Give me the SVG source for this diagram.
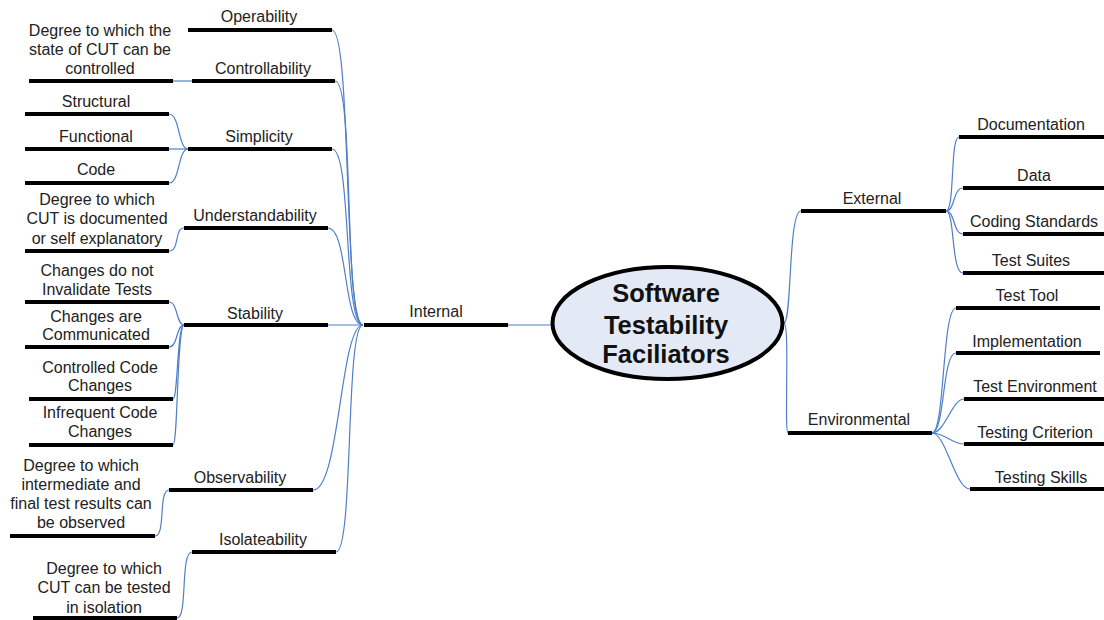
<svg xmlns="http://www.w3.org/2000/svg" width="1104" height="620" viewBox="0 0 1104 620">
  <style>
    .bar { stroke: #000; stroke-width: 4; fill: none; }
    .link { stroke: #4f7fc8; stroke-width: 1.2; fill: none; }
    .lbl { font-family: "Liberation Sans", Arial, sans-serif; font-size: 16px; fill: #222; text-anchor: middle; }
    .core { font-family: "Liberation Sans", Arial, sans-serif; font-size: 25.5px; font-weight: bold; fill: #111; text-anchor: middle; }
  </style>
  <rect width="1104" height="620" fill="#fff"/>

  <!-- connectors -->
  <g id="connectors">
    <!-- hub of Internal to the category branches -->
    <path class="link" d="M363,325 C343,325 352,30 332,30"/>
    <path class="link" d="M363,325 C343,325 355,81 335,81"/>
    <path class="link" d="M363,325 C343,325 352,149 332,149"/>
    <path class="link" d="M363,325 C343,325 348,228 328,228"/>
    <path class="link" d="M363,325 L328,325"/>
    <path class="link" d="M363,325 C340,325 340,490 313,490"/>
    <path class="link" d="M363,325 C345,325 354,552 336,552"/>
    <!-- Internal to the centre -->
    <path class="link" d="M508,325 L552,325"/>
    <!-- centre to right side branches -->
    <path class="link" d="M784,323 C792,323 788,211 801,211"/>
    <path class="link" d="M784,323 C790,323 784,433 788,433"/>
    <!-- Controllability detail -->
    <path class="link" d="M192,81 L173,81"/>
    <!-- Simplicity children -->
    <path class="link" d="M188,149 C178,149 180,114 169,114"/>
    <path class="link" d="M188,149 L169,149"/>
    <path class="link" d="M188,149 C178,149 180,183 169,183"/>
    <!-- Understandability detail -->
    <path class="link" d="M184,228 C174,228 180,251 169,251"/>
    <!-- Stability children -->
    <path class="link" d="M184,325 C176,325 178,302 169,302"/>
    <path class="link" d="M184,325 C176,325 178,347 169,347"/>
    <path class="link" d="M184,325 C177,325 178,399 173,399"/>
    <path class="link" d="M184,325 C177,325 178,445 173,445"/>
    <!-- Observability detail -->
    <path class="link" d="M169,490 C158,490 166,536 155,536"/>
    <!-- Isolateability detail -->
    <path class="link" d="M192,552 C180,552 188,618 177,618"/>
    <!-- External children -->
    <path class="link" d="M946,211 C955,211 950,137 959,137"/>
    <path class="link" d="M946,211 C955,211 953,188 963,188"/>
    <path class="link" d="M946,211 C955,211 953,234 963,234"/>
    <path class="link" d="M946,211 C955,211 951,273 963,273"/>
    <!-- Environmental children -->
    <path class="link" d="M932,433 C945,433 942,308 956,308"/>
    <path class="link" d="M932,433 C945,433 942,353 956,353"/>
    <path class="link" d="M932,433 C945,433 952,399 964,399"/>
    <path class="link" d="M932,433 C945,433 952,444 964,444"/>
    <path class="link" d="M932,433 C946,433 955,489 970,489"/>
  </g>

  <!-- centre -->
  <g id="center">
    <ellipse cx="667.5" cy="323" rx="115" ry="56" fill="#e3e9f5" stroke="#000" stroke-width="4"/>
    <text class="core" x="666" y="302">Software</text>
    <text class="core" x="666" y="334">Testability</text>
    <text class="core" x="666" y="363">Faciliators</text>
  </g>

  <!-- left side -->
  <g id="internal">
    <line class="bar" x1="364" y1="325" x2="508" y2="325"/>
    <text class="lbl" x="436" y="317">Internal</text>
  </g>

  <g id="operability">
    <line class="bar" x1="188" y1="30" x2="332" y2="30"/>
    <text class="lbl" x="259" y="22">Operability</text>
  </g>

  <g id="controllability">
    <line class="bar" x1="192" y1="81" x2="335" y2="81"/>
    <text class="lbl" x="263" y="74">Controllability</text>
  </g>
  <g id="controllability-detail">
    <line class="bar" x1="29" y1="81" x2="173" y2="81"/>
    <text class="lbl" x="100" y="36">Degree to which the</text>
    <text class="lbl" x="100" y="55">state of CUT can be</text>
    <text class="lbl" x="100" y="74">controlled</text>
  </g>

  <g id="simplicity">
    <line class="bar" x1="188" y1="149" x2="332" y2="149"/>
    <text class="lbl" x="259" y="142">Simplicity</text>
  </g>
  <g id="structural">
    <line class="bar" x1="25" y1="114" x2="169" y2="114"/>
    <text class="lbl" x="96" y="107">Structural</text>
  </g>
  <g id="functional">
    <line class="bar" x1="25" y1="149" x2="169" y2="149"/>
    <text class="lbl" x="96" y="142">Functional</text>
  </g>
  <g id="code">
    <line class="bar" x1="25" y1="183" x2="169" y2="183"/>
    <text class="lbl" x="96" y="175">Code</text>
  </g>

  <g id="understandability">
    <line class="bar" x1="184" y1="228" x2="328" y2="228"/>
    <text class="lbl" x="255" y="221">Understandability</text>
  </g>
  <g id="understandability-detail">
    <line class="bar" x1="25" y1="251" x2="169" y2="251"/>
    <text class="lbl" x="97" y="205">Degree to which</text>
    <text class="lbl" x="97" y="224">CUT is documented</text>
    <text class="lbl" x="97" y="244">or self explanatory</text>
  </g>

  <g id="stability">
    <line class="bar" x1="184" y1="325" x2="328" y2="325"/>
    <text class="lbl" x="255" y="319">Stability</text>
  </g>
  <g id="no-invalidate">
    <line class="bar" x1="25" y1="302" x2="169" y2="302"/>
    <text class="lbl" x="97" y="276">Changes do not</text>
    <text class="lbl" x="97" y="295">Invalidate Tests</text>
  </g>
  <g id="communicated">
    <line class="bar" x1="25" y1="347" x2="169" y2="347"/>
    <text class="lbl" x="96" y="322">Changes are</text>
    <text class="lbl" x="96" y="340">Communicated</text>
  </g>
  <g id="controlled-changes">
    <line class="bar" x1="29" y1="399" x2="173" y2="399"/>
    <text class="lbl" x="100" y="373">Controlled Code</text>
    <text class="lbl" x="100" y="391">Changes</text>
  </g>
  <g id="infrequent-changes">
    <line class="bar" x1="29" y1="445" x2="173" y2="445"/>
    <text class="lbl" x="100" y="418">Infrequent Code</text>
    <text class="lbl" x="100" y="437">Changes</text>
  </g>

  <g id="observability">
    <line class="bar" x1="169" y1="490" x2="313" y2="490"/>
    <text class="lbl" x="240" y="483">Observability</text>
  </g>
  <g id="observability-detail">
    <line class="bar" x1="10" y1="536" x2="155" y2="536"/>
    <text class="lbl" x="81" y="471">Degree to which</text>
    <text class="lbl" x="81" y="490">intermediate and</text>
    <text class="lbl" x="81" y="509">final test results can</text>
    <text class="lbl" x="81" y="528">be observed</text>
  </g>

  <g id="isolateability">
    <line class="bar" x1="192" y1="552" x2="336" y2="552"/>
    <text class="lbl" x="263" y="545">Isolateability</text>
  </g>
  <g id="isolateability-detail">
    <line class="bar" x1="33" y1="618" x2="177" y2="618"/>
    <text class="lbl" x="104" y="574">Degree to which</text>
    <text class="lbl" x="104" y="593">CUT can be tested</text>
    <text class="lbl" x="104" y="613">in isolation</text>
  </g>

  <!-- right side -->
  <g id="external">
    <line class="bar" x1="801" y1="211" x2="946" y2="211"/>
    <text class="lbl" x="872" y="204">External</text>
  </g>
  <g id="documentation">
    <line class="bar" x1="959" y1="137" x2="1104" y2="137"/>
    <text class="lbl" x="1031" y="130">Documentation</text>
  </g>
  <g id="data">
    <line class="bar" x1="963" y1="188" x2="1104" y2="188"/>
    <text class="lbl" x="1034" y="181">Data</text>
  </g>
  <g id="coding-standards">
    <line class="bar" x1="963" y1="234" x2="1104" y2="234"/>
    <text class="lbl" x="1034" y="227">Coding Standards</text>
  </g>
  <g id="test-suites">
    <line class="bar" x1="963" y1="273" x2="1104" y2="273"/>
    <text class="lbl" x="1031" y="266">Test Suites</text>
  </g>

  <g id="environmental">
    <line class="bar" x1="788" y1="433" x2="932" y2="433"/>
    <text class="lbl" x="859" y="425">Environmental</text>
  </g>
  <g id="test-tool">
    <line class="bar" x1="956" y1="308" x2="1100" y2="308"/>
    <text class="lbl" x="1027" y="301">Test Tool</text>
  </g>
  <g id="implementation">
    <line class="bar" x1="956" y1="353" x2="1100" y2="353"/>
    <text class="lbl" x="1027" y="347">Implementation</text>
  </g>
  <g id="test-environment">
    <line class="bar" x1="964" y1="399" x2="1104" y2="399"/>
    <text class="lbl" x="1035" y="392">Test Environment</text>
  </g>
  <g id="testing-criterion">
    <line class="bar" x1="964" y1="444" x2="1104" y2="444"/>
    <text class="lbl" x="1035" y="438">Testing Criterion</text>
  </g>
  <g id="testing-skills">
    <line class="bar" x1="970" y1="489" x2="1104" y2="489"/>
    <text class="lbl" x="1041" y="483">Testing Skills</text>
  </g>
</svg>
